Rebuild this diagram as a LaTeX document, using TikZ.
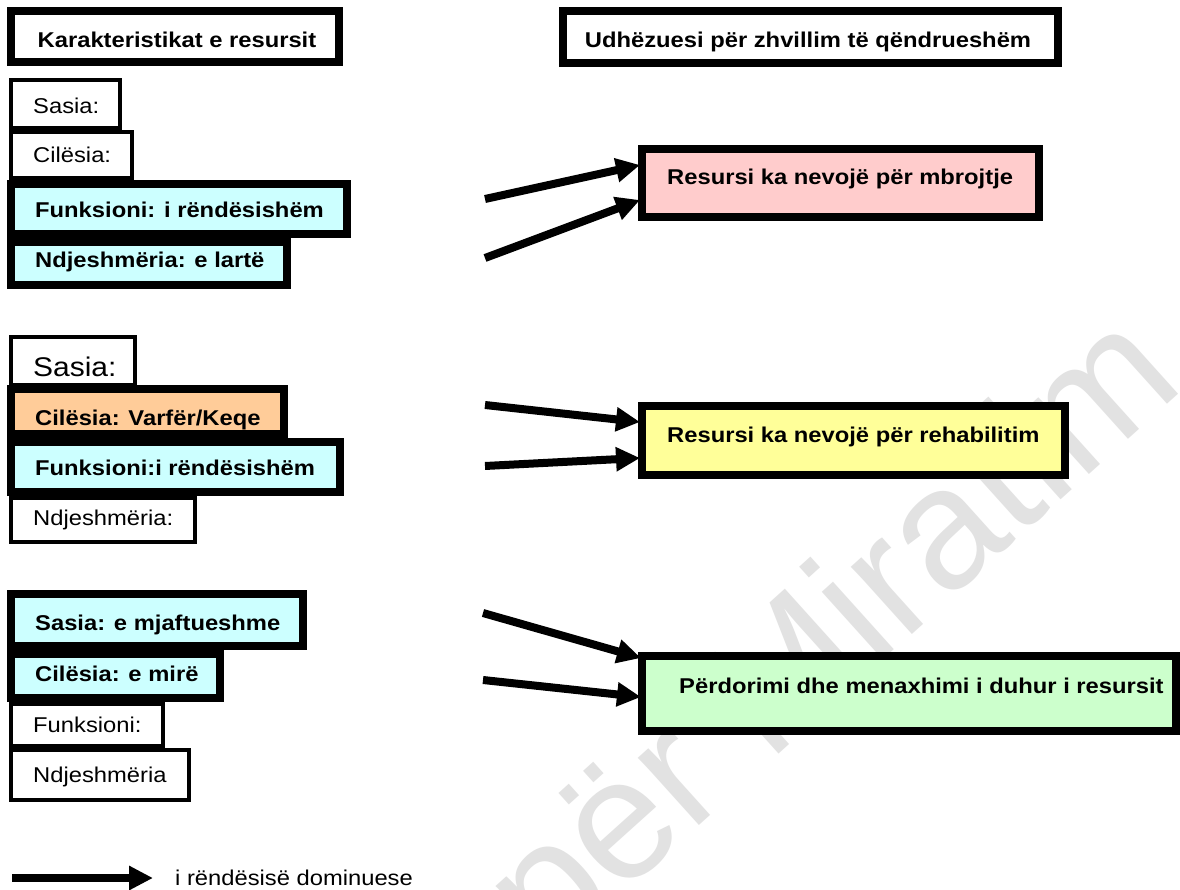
\documentclass[tikz,border=0pt]{standalone}
\usepackage{fontspec}
\setmainfont{Liberation Sans}[FakeStretch=1.11]
\newfontfamily\wmfont{Liberation Sans}
\usetikzlibrary{arrows.meta,calc}
\definecolor{cyanf}{HTML}{CCFFFF}
\definecolor{orangef}{HTML}{FFCC99}
\definecolor{pinkf}{HTML}{FFCCCC}
\definecolor{yellowf}{HTML}{FFFF99}
\definecolor{greenf}{HTML}{CCFFCC}
\definecolor{wmgray}{HTML}{E2E2E2}
\begin{document}
\begin{tikzpicture}[x=1pt,y=-1pt,
  thickbox/.style={draw=black,line width=8pt,anchor=north west,inner sep=0pt,outer sep=0pt},
  thinbox/.style={draw=black,line width=4pt,anchor=north west,inner sep=0pt,outer sep=0pt},
  lbl/.style={font=\fontsize{21.4}{25}\selectfont,anchor=base west,inner sep=0pt},
  blbl/.style={font=\fontsize{21.4}{25}\selectfont\bfseries,anchor=base west,inner sep=0pt},
  arr/.style={line width=8pt,-{Triangle[length=24pt,width=23pt]}},
  wm/.style={font=\wmfont\fontsize{172}{172}\selectfont,text=wmgray,inner sep=0pt}
]
\useasboundingbox (0,0) rectangle (1180,890);
\clip (0,0) rectangle (1180,890);
\fill[white] (0,0) rectangle (1180,890);
% watermark
\node[wm,rotate=42,anchor=base west] (wmk) at (548,962) {për Miratim};

% titles
\node[thickbox,fill=white,minimum width=328pt,minimum height=51pt] (t1) at (11,11) {};
\node[blbl,anchor=base] (t1t) at (177,48) {Karakteristikat e resursit};
\node[thickbox,fill=white,minimum width=495pt,minimum height=52pt] (t2) at (563,11) {};
\node[blbl,anchor=base] (t2t) at (808,48) {Udhëzuesi për zhvillim të qëndrueshëm};

% group 1
\node[thinbox,fill=white,minimum width=109pt,minimum height=48pt] (a1) at (11,80) {};
\node[thinbox,fill=white,minimum width=121pt,minimum height=46pt] (a2) at (11,132) {};
\node[thickbox,fill=cyanf,minimum width=336pt,minimum height=50pt] (a3) at (11,184) {};
\node[thickbox,fill=cyanf,minimum width=276pt,minimum height=43pt] (a4) at (11,242) {};
\node[lbl] (a1t) at (33,114) {Sasia:};
\node[lbl] (a2t) at (33,163) {Cilësia:};
\node[blbl] (a3t) at (35,218) {Funksioni: i rëndësishëm};
\node[blbl] (a4t) at (35,268) {Ndjeshmëria: e lartë};

% group 2
\node[thinbox,fill=white,minimum width=124pt,minimum height=48pt] (b1) at (11,337) {};
\node[thinbox,fill=white,minimum width=184pt,minimum height=44pt] (b4) at (11,498) {};
\node[thickbox,fill=orangef,minimum width=273pt,minimum height=45pt] (b2) at (11,389) {};
\node[thickbox,fill=cyanf,minimum width=329pt,minimum height=50pt] (b3) at (11,442) {};
\node[lbl,font=\fontsize{27}{31}\selectfont] (b1t) at (33,377) {Sasia:};
\node[blbl] (b2t) at (35,425) {Cilësia: Varfër/Keqe};
\node[blbl] (b3t) at (35,475) {Funksioni:i rëndësishëm};
\node[lbl] (b4t) at (33,525) {Ndjeshmëria:};

% group 3
\node[thinbox,fill=white,minimum width=152pt,minimum height=42pt] (c3) at (11,704) {};
\node[thinbox,fill=white,minimum width=178pt,minimum height=50pt] (c4) at (11,750) {};
\node[thickbox,fill=cyanf,minimum width=292pt,minimum height=52pt] (c1) at (11,594) {};
\node[thickbox,fill=cyanf,minimum width=209pt,minimum height=44pt] (c2) at (11,654) {};
\node[blbl] (c1t) at (35,630) {Sasia: e mjaftueshme};
\node[blbl] (c2t) at (35,681) {Cilësia: e mirë};
\node[lbl] (c3t) at (33,732) {Funksioni:};
\node[lbl] (c4t) at (33,782) {Ndjeshmëria};

% right boxes
\node[thickbox,fill=pinkf,minimum width=397pt,minimum height=68pt] (r1) at (642,149) {};
\node[blbl] (r1t) at (667,185) {Resursi ka nevojë për mbrojtje};
\node[thickbox,fill=yellowf,minimum width=423pt,minimum height=69pt] (r2) at (642,406) {};
\node[blbl] (r2t) at (667,442) {Resursi ka nevojë për rehabilitim};
\node[thickbox,fill=greenf,minimum width=534pt,minimum height=75pt] (r3) at (642,656) {};
\node[blbl] (r3t) at (679,693) {Përdorimi dhe menaxhimi i duhur i resursit};

% arrows
\coordinate (s11) at (485,199);
\coordinate (s12) at (485,258);
\coordinate (s21) at (485,405);
\coordinate (s22) at (485,466);
\coordinate (s31) at (483,613);
\coordinate (s32) at (483,680);
\draw[arr] (s11) -- ($(r1.north west)+(-2,16)$);
\draw[arr] (s12) -- ($(r1.north west)+(-2,51)$);
\draw[arr] (s21) -- ($(r2.north west)+(-2,16)$);
\draw[arr] (s22) -- ($(r2.north west)+(-2,52)$);
\draw[arr] (s31) -- ($(r3.north west)+(-1,2)$);
\draw[arr] (s32) -- ($(r3.north west)+(-1,41)$);

% legend
\coordinate (lgs) at (12,878);
\coordinate (lge) at (153,878);
\draw[arr] (lgs) -- (lge);
\node[lbl] (lgt) at (175,885) {i rëndësisë dominuese};
\end{tikzpicture}
\end{document}
